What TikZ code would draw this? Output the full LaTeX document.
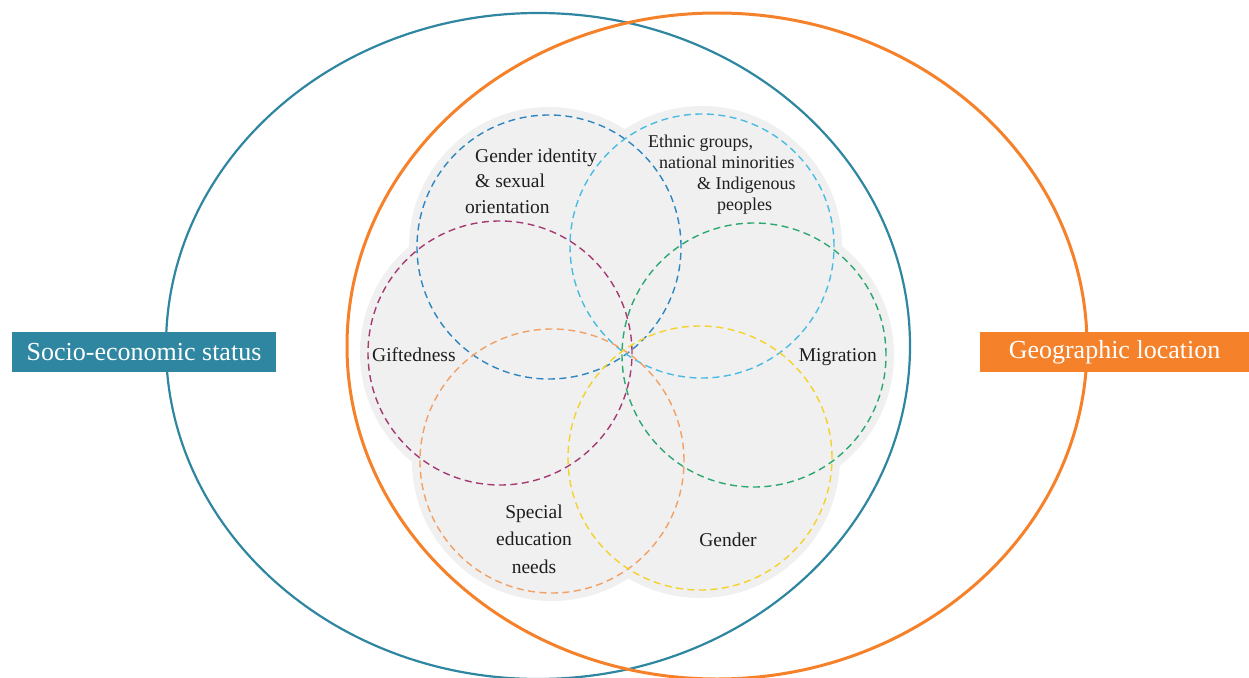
\documentclass[tikz,border=0pt]{standalone}
\usepackage{fontspec}
\setmainfont{Liberation Serif}

\definecolor{sesteal}{HTML}{2F86A0}
\definecolor{geoorange}{HTML}{F5822A}
\definecolor{petalgray}{HTML}{F0F0F0}
\definecolor{inktext}{HTML}{1E1E1E}
\definecolor{giblue}{HTML}{2E86C1}
\definecolor{ethcyan}{HTML}{4ABBE2}
\definecolor{giftpurple}{HTML}{A53A72}
\definecolor{migreen}{HTML}{2BA870}
\definecolor{sedorange}{HTML}{F2A064}
\definecolor{genyellow}{HTML}{F4D22C}

\begin{document}
\begin{tikzpicture}[x=1pt,y=-1pt]
        \tikzstyle{petal}=[circle, fill=petalgray, inner sep=0pt, minimum size=280pt]
        \tikzstyle{ring}=[circle, draw, inner sep=0pt, minimum size=264pt, line width=1.4pt, dash pattern=on 7pt off 4.5pt]
        \tikzstyle{factor}=[inner sep=0pt, text=inktext, font=\fontsize{19.5}{25.5}\selectfont]
        \tikzstyle{context}=[inner sep=0pt, minimum height=40pt, text=white, font=\fontsize{26}{30}\selectfont]
        \useasboundingbox (0,0) rectangle (1249,677);
        % the two big contexts
        \begin{scope}
            \clip (0,0) rectangle (1249,677);
            \draw[sesteal, line width=2.2pt] (538,346) ellipse [x radius=372pt, y radius=333pt];
            \draw[geoorange, line width=3pt] (717,346) ellipse [x radius=370pt, y radius=333pt];
        \end{scope}
        \node[context, fill=sesteal, minimum width=264pt] (ses) at (144,352) {Socio-economic status};
        \node[context, fill=geoorange, minimum width=269pt] (geo) at (1114.5,352) {Geographic location};
        % grey flower
        \node[petal] (gi) at (549,247) {};
        \node[petal] (eth) at (702,246) {};
        \node[petal] (gift) at (500,353) {};
        \node[petal] (mig) at (754,355) {};
        \node[petal] (sen) at (552,461) {};
        \node[petal] (gen) at (700,458) {};
        % dashed rings
        \node[ring, draw=giblue] (gi-ring) at (gi) {};
        \node[ring, draw=ethcyan] (eth-ring) at (eth) {};
        \node[ring, draw=giftpurple] (gift-ring) at (gift) {};
        \node[ring, draw=migreen] (mig-ring) at (mig) {};
        \node[ring, draw=sedorange] (sen-ring) at (sen) {};
        \node[ring, draw=genyellow] (gen-ring) at (gen) {};
        % labels (base = last line)
        \node[factor, align=left, anchor=base west] (gi-text) at (475,213) {Gender identity\\ \& sexual\\ \hspace*{-10pt}orientation};
        \node[factor, align=left, anchor=base west, font=\fontsize{18}{21}\selectfont] (eth-text) at (648,210) {Ethnic groups,\\ \hspace*{11pt}national minorities\\ \hspace*{49pt}\& Indigenous\\ \hspace*{69pt}peoples};
        \node[factor, anchor=base west] (gift-text) at (372,361) {Giftedness};
        \node[factor, anchor=base east] (mig-text) at (877,361) {Migration};
        \node[factor, align=center, anchor=base, font=\fontsize{19.5}{27.5}\selectfont] (sen-text) at (534,573) {Special\\ education\\ needs};
        \node[factor, anchor=base] (gen-text) at (728,546) {Gender};
\end{tikzpicture}
\end{document}
